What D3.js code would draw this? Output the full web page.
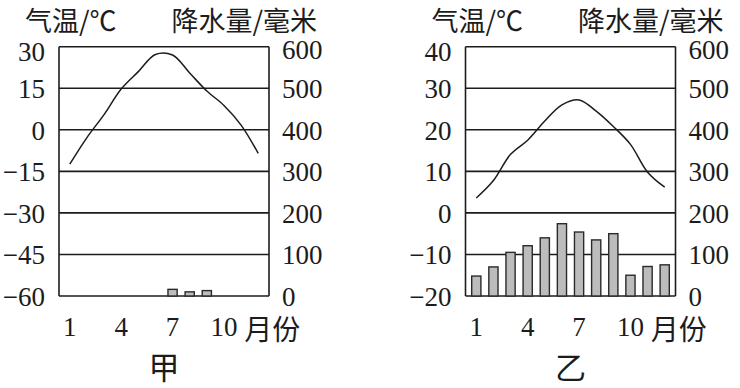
<!DOCTYPE html>
<html>
<head>
<meta charset="utf-8">
<script src="https://cdn.jsdelivr.net/npm/d3@7"></script>
<style>
  body { margin: 0; background: #fff; }
  svg text { fill: #1c1c1c; }
  .num { font-family: "Liberation Serif", "DejaVu Serif", serif; font-size: 27px; }
  .cjk { font-family: "Noto Sans CJK SC", sans-serif; }
</style>
</head>
<body>
<svg id="chart" width="740" height="388"></svg>
<script>
// months and tick labels
const months = [1, 2, 3, 4, 5, 6, 7, 8, 9, 10, 11, 12]
const month_labels = [1, 4, 7, 10]
const precip_ticks = [0, 100, 200, 300, 400, 500, 600]

// 甲
const temp_ticks_jia = [-60, -45, -30, -15, 0, 15, 30]
const temp_jia = [-12.4, -2.8, 5.5, 14.7, 21, 27.2, 27, 20.5, 14, 8.8, 1.7, -8.5]
const precip_jia = [0, 0, 0, 0, 0, 0, 16, 10, 13, 0, 0, 0]

// 乙
const temp_ticks_yi = [-20, -10, 0, 10, 20, 30, 40]
const temp_yi = [3.6, 7.8, 14.1, 17.5, 22.1, 26, 27.2, 24.5, 20.8, 16.5, 9.8, 6.2]
const precip_yi = [48, 70, 105, 121, 140, 174, 154, 135, 150, 50, 71, 75]

const svg = d3.select("#chart")

render_panel(svg.append("g"), 59, "甲", temp_ticks_jia, temp_jia, precip_jia)
render_panel(svg.append("g"), 465.5, "乙", temp_ticks_yi, temp_yi, precip_yi)

function render_panel(g, left, title, temp_ticks, temps, precips){
  let width = 210, top = 46.7, bottom = 296
  let right = left + width
  let ink = "#1c1c1c"

  let x = d3.scalePoint().domain(months).range([left, right]).padding(0.63)
  let y = d3.scaleLinear().domain(d3.extent(temp_ticks)).range([bottom, top])
  let yp = d3.scaleLinear().domain([0, 600]).range([bottom, top])

  // grid lines
  g.selectAll(".grid").data(temp_ticks).join("line")
    .attr("x1", left).attr("x2", right)
    .attr("y1", d => y(d)).attr("y2", d => y(d))
    .attr("stroke", ink).attr("stroke-width", 1.6)

  // frame sides
  g.selectAll(".side").data([left, right]).join("line")
    .attr("x1", d => d).attr("x2", d => d)
    .attr("y1", top).attr("y2", bottom)
    .attr("stroke", ink).attr("stroke-width", 1.6)

  // bars
  g.selectAll(".bar").data(months.filter((m, i) => precips[i] > 0)).join("rect")
    .attr("x", d => x(d) - 4.6)
    .attr("width", 9.2)
    .attr("y", d => yp(precips[d - 1]))
    .attr("height", d => bottom - yp(precips[d - 1]))
    .attr("fill", "#bcbcbc")
    .attr("stroke", "#2a2a2a")
    .attr("stroke-width", 1.4)

  // temperature curve
  let line = d3.line()
    .x((d, i) => x(months[i]))
    .y(d => y(d))
    .curve(d3.curveCatmullRom)
  g.append("path")
    .attr("d", line(temps))
    .attr("fill", "none")
    .attr("stroke", ink)
    .attr("stroke-width", 1.5)

  // left axis labels
  let fmt = d3.format("")
  g.selectAll(".tl").data(temp_ticks).join("text")
    .attr("class", "num")
    .attr("x", left - 14)
    .attr("y", d => y(d) + (d === temp_ticks[temp_ticks.length - 1] ? 5 : 1))
    .attr("text-anchor", "end")
    .attr("dominant-baseline", "central")
    .text(d => fmt(d))

  // right axis labels
  g.selectAll(".pl").data(precip_ticks).join("text")
    .attr("class", "num")
    .attr("x", right + 13)
    .attr("y", d => yp(d) + (d === 600 ? 3 : 1))
    .attr("dominant-baseline", "central")
    .text(d => d)

  // month labels
  g.selectAll(".ml").data(month_labels).join("text")
    .attr("class", "num")
    .attr("x", d => x(d))
    .attr("y", 327)
    .attr("text-anchor", "middle")
    .attr("dominant-baseline", "central")
    .text(d => d)

  g.append("text")
    .attr("class", "cjk")
    .attr("x", x(12) - 14)
    .attr("y", 328)
    .attr("font-size", 28)
    .attr("dominant-baseline", "central")
    .text("月份")

  // unit headers
  g.append("text")
    .attr("class", "cjk")
    .attr("x", left - 34)
    .attr("y", 19)
    .attr("font-size", 27)
    .attr("dominant-baseline", "central")
    .text("气温/℃")

  g.append("text")
    .attr("class", "cjk")
    .attr("x", right + 48)
    .attr("y", 19)
    .attr("font-size", 27)
    .attr("text-anchor", "end")
    .attr("dominant-baseline", "central")
    .text("降水量/毫米")

  // title
  g.append("text")
    .attr("class", "cjk")
    .attr("x", (left + right) / 2)
    .attr("y", 365)
    .attr("font-size", 31)
    .attr("text-anchor", "middle")
    .attr("dominant-baseline", "central")
    .text(title)
}
</script>
</body>
</html>
